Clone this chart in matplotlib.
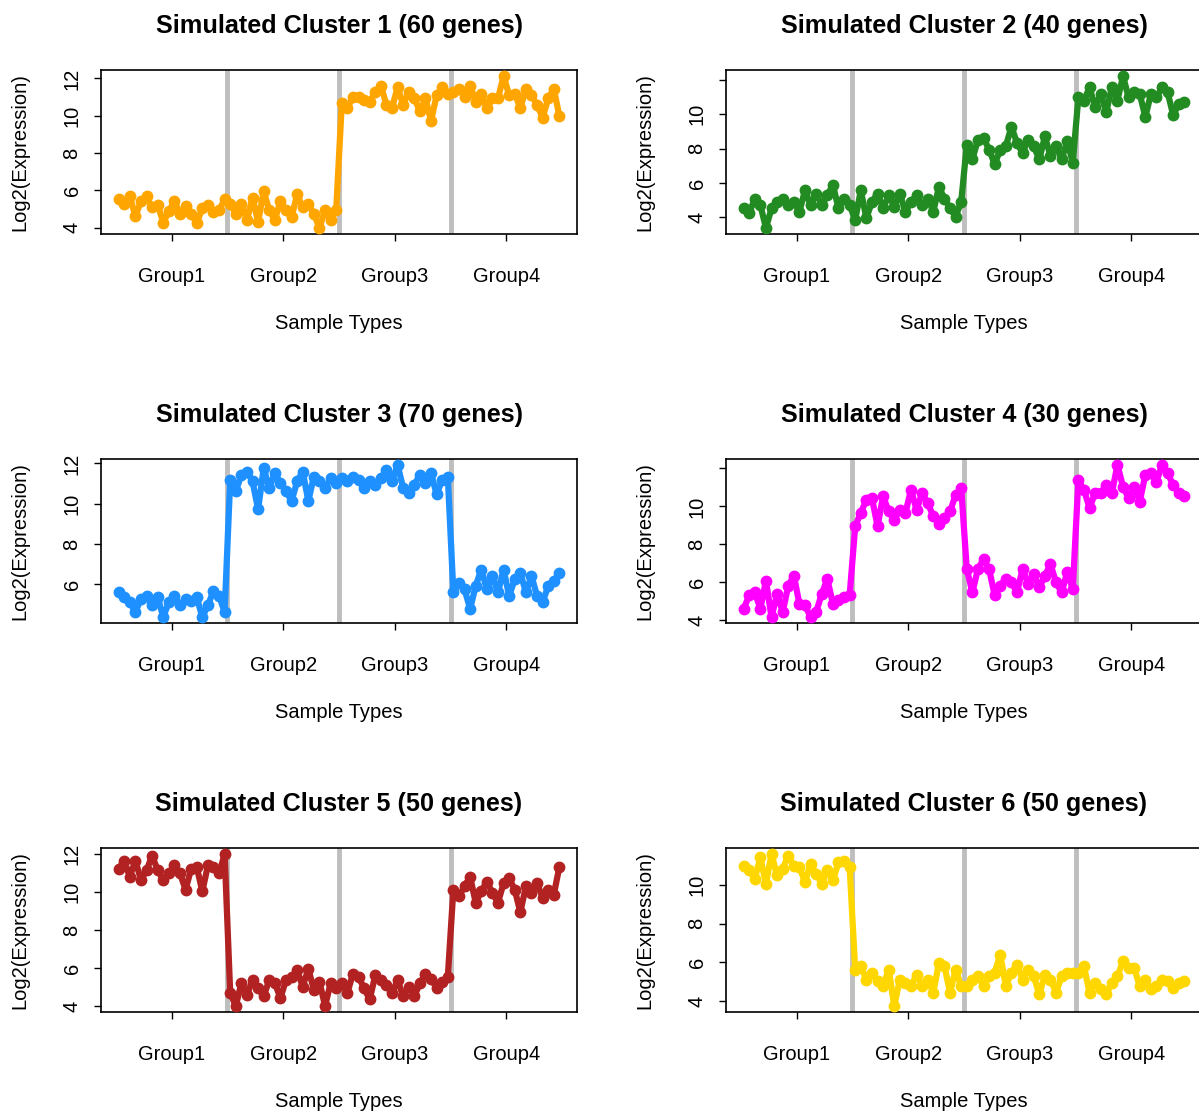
import numpy as np
import matplotlib.pyplot as plt

plt.rcParams['font.family'] = ['Liberation Sans', 'DejaVu Sans']

groups = ['Group1', 'Group2', 'Group3', 'Group4']
per_group = 20

titles = ['Simulated Cluster 1 (60 genes)', 'Simulated Cluster 2 (40 genes)',
          'Simulated Cluster 3 (70 genes)', 'Simulated Cluster 4 (30 genes)',
          'Simulated Cluster 5 (50 genes)', 'Simulated Cluster 6 (50 genes)']
colors = ['orange', 'forestgreen', 'dodgerblue', 'magenta', 'firebrick', 'gold']

# mean log2 expression per sample, 20 samples per group
cluster1 = [5.52, 5.26, 5.69, 4.61, 5.40, 5.69, 5.09, 5.23, 4.26, 4.88, 5.40, 4.74, 5.14, 4.74, 4.23, 5.05, 5.23, 4.83, 4.92, 5.52,
            5.26, 4.74, 5.26, 4.40, 5.60, 4.31, 5.95, 4.92, 4.40, 5.43, 4.92, 4.57, 5.78, 5.09, 5.26, 4.74, 3.98, 4.92, 4.40, 4.95,
            10.67, 10.41, 11.02, 11.02, 10.84, 10.76, 11.27, 11.62, 10.59, 10.41, 11.53, 10.59, 11.27, 10.93, 10.24, 10.93, 9.73, 11.10, 11.53, 11.19,
            11.27, 11.45, 11.02, 11.62, 10.76, 11.19, 10.41, 10.93, 10.93, 12.13, 11.10, 11.19, 10.41, 11.45, 11.10, 10.59, 9.90, 10.93, 11.45, 9.98]
cluster2 = [4.52, 4.23, 5.09, 4.71, 3.38, 4.52, 4.90, 5.09, 4.71, 4.90, 4.33, 5.57, 4.71, 5.38, 4.71, 5.28, 5.89, 4.52, 5.09, 4.71,
            3.85, 5.57, 3.95, 4.90, 5.38, 4.52, 5.28, 4.61, 5.38, 4.33, 4.90, 5.28, 4.71, 5.09, 4.33, 5.76, 5.09, 4.52, 4.04, 4.90,
            8.23, 7.38, 8.52, 8.61, 7.95, 7.09, 7.95, 8.14, 9.28, 8.33, 7.76, 8.52, 8.14, 7.38, 8.71, 7.57, 8.14, 7.38, 8.42, 7.19,
            10.99, 10.80, 11.57, 10.42, 11.19, 10.14, 11.57, 10.80, 12.23, 10.99, 11.28, 11.19, 9.85, 11.19, 10.99, 11.57, 11.28, 9.95, 10.61, 10.71]
cluster3 = [5.60, 5.35, 5.11, 4.62, 5.27, 5.43, 4.95, 5.35, 4.38, 5.11, 5.43, 4.95, 5.27, 5.19, 5.35, 4.38, 4.95, 5.68, 5.43, 4.62,
            11.19, 10.62, 11.43, 11.60, 11.11, 9.73, 11.76, 10.79, 11.52, 11.03, 10.62, 10.14, 11.11, 11.60, 10.14, 11.35, 11.11, 10.79, 11.27, 11.03,
            11.27, 11.11, 11.35, 11.19, 10.79, 11.11, 10.95, 11.27, 11.68, 11.11, 11.92, 10.79, 10.54, 10.95, 11.43, 11.03, 11.52, 10.46, 11.19, 11.35,
            5.60, 6.08, 5.76, 4.78, 5.92, 6.73, 5.76, 6.41, 5.60, 6.73, 5.43, 6.24, 6.57, 5.60, 6.41, 5.43, 5.11, 5.92, 6.16, 6.57]
cluster4 = [4.61, 5.31, 5.48, 4.61, 6.09, 4.18, 5.39, 4.44, 5.83, 6.35, 4.87, 4.79, 4.18, 4.44, 5.39, 6.18, 4.87, 5.05, 5.22, 5.31,
            8.96, 9.66, 10.35, 10.44, 8.96, 10.53, 9.74, 9.31, 9.83, 9.66, 10.87, 9.83, 10.70, 10.18, 9.48, 9.05, 9.40, 9.74, 10.61, 10.96,
            6.70, 5.48, 6.70, 7.22, 6.70, 5.31, 5.83, 6.18, 6.00, 5.48, 6.70, 5.92, 6.44, 5.74, 6.35, 6.96, 6.00, 5.48, 6.53, 5.66,
            11.39, 10.87, 9.92, 10.70, 10.70, 11.13, 10.70, 12.18, 11.05, 10.44, 11.05, 10.26, 11.66, 11.74, 11.31, 12.18, 11.74, 11.13, 10.70, 10.53]
cluster5 = [11.22, 11.65, 10.80, 11.65, 10.63, 11.14, 11.90, 11.14, 10.63, 10.97, 11.39, 10.97, 10.12, 11.22, 11.31, 10.03, 11.39, 11.31, 10.97, 11.99,
            4.68, 4.00, 5.19, 4.59, 5.36, 4.93, 4.51, 5.36, 5.19, 4.42, 5.36, 5.53, 5.87, 5.02, 5.95, 4.85, 5.27, 4.00, 5.19, 4.93,
            5.19, 4.68, 5.70, 5.53, 4.93, 4.34, 5.61, 5.36, 5.10, 4.68, 5.36, 4.51, 5.02, 4.51, 5.19, 5.70, 5.44, 4.93, 5.27, 5.53,
            10.12, 9.78, 10.29, 10.80, 9.44, 10.03, 10.54, 9.95, 9.44, 10.46, 10.71, 10.12, 8.93, 10.29, 9.95, 10.46, 9.69, 10.12, 9.86, 11.31]
cluster6 = [11.02, 10.77, 10.34, 11.45, 10.08, 11.62, 10.51, 10.85, 11.54, 11.02, 10.94, 10.17, 11.11, 10.60, 10.08, 10.77, 10.25, 11.20, 11.28, 10.94,
            5.63, 5.80, 5.11, 5.46, 5.03, 4.77, 5.63, 3.74, 5.11, 4.94, 4.77, 5.37, 4.77, 5.11, 4.43, 5.97, 5.80, 4.43, 5.63, 4.77,
            4.77, 5.11, 5.28, 4.77, 5.28, 5.46, 6.40, 4.77, 5.46, 5.88, 5.11, 5.63, 5.28, 4.34, 5.37, 5.11, 4.43, 5.28, 5.46, 5.46,
            5.46, 5.80, 4.43, 4.94, 4.60, 4.34, 4.94, 5.28, 6.05, 5.71, 5.71, 4.77, 5.11, 4.60, 4.77, 5.11, 5.03, 4.68, 4.94, 5.03]

clusters = [cluster1, cluster2, cluster3, cluster4, cluster5, cluster6]
# panels where the top "12" label is dropped because it crowds the "10"
drop_top_label = [False, True, False, True, False, False]

W, H = 1199, 1113
fig = plt.figure(figsize=(W / 100, H / 100), dpi=100)

col_left = [101, 726]
row_top = [70, 459, 848]
pw, ph = 476, 164

n = per_group * len(groups)
x = np.arange(1, n + 1)
centers = [(per_group + 1) / 2 + k * per_group for k in range(len(groups))]
bounds = [k * per_group + 0.5 for k in range(1, len(groups))]

for i, vals in enumerate(clusters):
    r, c = divmod(i, 2)
    ax = fig.add_axes([col_left[c] / W, 1 - (row_top[r] + ph) / H, pw / W, ph / H])

    for b in bounds:
        ax.axvline(b, color='#BEBEBE', lw=3.5, zorder=1)
    ax.plot(x, vals, color=colors[i], lw=4.5, marker='o', ms=7.5,
            solid_joinstyle='round', solid_capstyle='round', zorder=3)

    # R style 4% padding on both axes
    lo, hi = min(vals), max(vals)
    pad = 0.04 * (hi - lo)
    ax.set_xlim(1 - 0.04 * (n - 1), n + 0.04 * (n - 1))

    yt = [4, 6, 8, 10, 12]
    ylab = ['' if (drop_top_label[i] and t == 12) else str(t) for t in yt]
    ax.set_yticks(yt, ylab)
    ax.set_ylim(lo - pad, hi + pad)
    ax.set_xticks(centers, groups)

    ax.tick_params(direction='out', length=5, width=1, labelsize=14.5, color='black')
    ax.tick_params(axis='x', pad=19)
    ax.tick_params(axis='y', labelrotation=90, pad=9)
    for lbl in ax.get_yticklabels():
        lbl.set_va('center')
    for s in ax.spines.values():
        s.set_linewidth(1.2)

    ax.text(0.5, 1.27, titles[i], transform=ax.transAxes, ha='center', va='center',
            fontsize=18.2, fontweight='bold')
    ax.text(0.5, -0.543, 'Sample Types', transform=ax.transAxes, ha='center',
            va='center', fontsize=14.5)
    ax.text(-0.17, 0.5, 'Log2(Expression)', transform=ax.transAxes, ha='center',
            va='center', rotation=90, fontsize=14.5)

fig.savefig('out.png', dpi=100)
